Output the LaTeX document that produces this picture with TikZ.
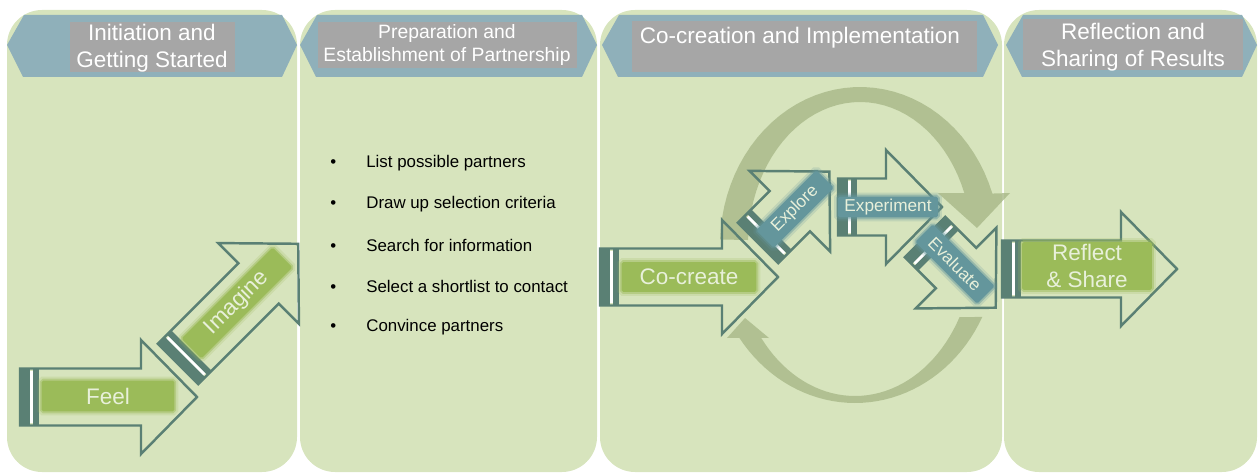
\documentclass[tikz,border=0pt]{standalone}
\usepackage{fontspec}
\setmainfont{Liberation Sans}
\usepackage{xcolor}
\usepackage{tikz}
\usetikzlibrary{positioning}

\definecolor{panelgreen}{RGB}{215,228,189}
\definecolor{headblue}{RGB}{143,176,186}
\definecolor{headgray}{RGB}{166,166,166}
\definecolor{arrowteal}{RGB}{90,128,116}
\definecolor{labgreen}{RGB}{155,187,89}
\definecolor{labteal}{RGB}{100,150,156}
\definecolor{cyclegreen}{RGB}{168,184,136}
\definecolor{labtext}{RGB}{232,240,218}

\tikzstyle{panel} = [fill=panelgreen, rounded corners=0.7cm]
\tikzstyle{headtext} = [text=white, align=center, inner sep=0pt, font=\fontsize{12.8}{15.3}\selectfont]
\tikzstyle{arrowline} = [draw=arrowteal, line width=1.4pt, line join=miter]
\tikzstyle{cyclearc} = [fill=cyclegreen, fill opacity=0.8]
\tikzstyle{greenlab} = [fill=labgreen, draw=labgreen, draw opacity=0.45, line width=2pt, rounded corners=1pt,
  preaction={draw=labgreen, draw opacity=0.2, line width=4.5pt}, text=labtext, inner sep=0pt, font=\fontsize{12.8}{15.3}\selectfont]
\tikzstyle{teallab} = [fill=labteal, draw=labteal, draw opacity=0.45, line width=2pt, rounded corners=1pt,
  preaction={draw=labteal, draw opacity=0.2, line width=4.5pt}, text=labtext, inner sep=0pt, font=\fontsize{9.8}{11}\selectfont]
\tikzstyle{listitem} = [anchor=west, inner sep=0pt, font=\fontsize{9.6}{11}\selectfont]

% block arrow: tail centre x, y, angle, length
\newcommand{\blockarrow}[4]{%
  \begin{scope}[shift={(#1,#2)}, rotate=#3]
    \fill[arrowteal] (0,-28.5) rectangle (10,28.5);
    \fill[white] (10,-26) rectangle (13,26);
    \fill[arrowteal] (13,-28.5) rectangle (19,28.5);
    \draw[arrowline] (0,-28.5) -- ({#4-56},-28.5) -- ({#4-56},-57) -- (#4,0)
      -- ({#4-56},57) -- ({#4-56},28.5) -- (0,28.5) -- cycle;
  \end{scope}}

% phase header: left and right point
\newcommand{\phasehead}[2]{%
  \fill[headblue] (#1,45) -- ({#1+17},15) -- ({#2-15},15) -- (#2,45)
    -- ({#2-15},77) -- ({#1+16},77) -- cycle;}

\begin{document}
\begin{tikzpicture}[x=0.02cm, y=-0.02cm]
    \useasboundingbox (0,0) rectangle (1258,473);

    % four phases
    \fill[panel] (7,10) rectangle (297,472);
    \fill[panel] (300,10) rectangle (597,472);
    \fill[panel] (600,10) rectangle (1002,472);
    \fill[panel] (1004,10) rectangle (1257,472);

    \phasehead{7}{297}
    \phasehead{300}{597}
    \phasehead{602}{998}
    \phasehead{1006}{1257}
    \fill[headgray] (70,22) rectangle (235,72);
    \fill[headgray] (318,22) rectangle (577,68);
    \fill[headgray] (632,21) rectangle (977,72);
    \fill[headgray] (1023,19) rectangle (1243,70);

    \node (phase1) [headtext] at (152,48) {Initiation and\\Getting Started};
    \node (phase2) [headtext, font=\fontsize{11}{13}\selectfont] at (447,45) {Preparation and\\Establishment of Partnership};
    \node (phase3) [headtext] at (800,38) {Co-creation and Implementation};
    \node (phase4) [headtext] at (1133,47) {Reflection and\\Sharing of Results};

    % partner search steps
    \node (item1) [listitem] at (330,163) {\makebox[0.72cm][l]{\textbullet}List possible partners};
    \node (item2) [listitem] at (330,204) {\makebox[0.72cm][l]{\textbullet}Draw up selection criteria};
    \node (item3) [listitem] at (330,245) {\makebox[0.72cm][l]{\textbullet}Search for information};
    \node (item4) [listitem] at (330,286) {\makebox[0.72cm][l]{\textbullet}Select a shortlist to contact};
    \node (item5) [listitem] at (330,327) {\makebox[0.72cm][l]{\textbullet}Convince partners};

    % iteration loop behind the co-creation arrows
    \fill[cyclearc] plot[domain=178:19, samples=40, variable=\t] ({860+140*cos(\t)},{245-158*sin(\t)})
      -- (1010,193) -- (977,228) -- (938,193)
      -- plot[domain=21.3:178, samples=40, variable=\t] ({860+112*cos(\t)},{245-143*sin(\t)}) -- cycle;
    \fill[cyclearc] plot[domain=-27.1:-144, samples=40, variable=\t] ({855+143*cos(\t)},{245-158*sin(\t)})
      -- (727,338) -- (745,318) -- (769,338)
      -- plot[domain=-142:-28.5, samples=40, variable=\t] ({855+119*cos(\t)},{245-151*sin(\t)}) -- cycle;

    % step arrows
    \blockarrow{20}{397}{0}{177}
    \blockarrow{178}{364}{45}{170}
    \blockarrow{600}{277}{0}{178}
    \blockarrow{758}{243}{45}{101}
    \blockarrow{838}{207}{0}{104}
    \blockarrow{925}{237}{-45}{100}
    \blockarrow{1002}{269}{0}{175}

    \node (feel) [greenlab, minimum width=2.66cm, minimum height=0.62cm] at (108,396) {Feel};
    \node (imagine) [greenlab, rotate=45, minimum width=2.58cm, minimum height=0.56cm] at (237,303) {Imagine};
    \node (cocreate) [greenlab, minimum width=2.7cm, minimum height=0.6cm] at (689,277) {Co-create};
    \node (explore) [teallab, rotate=45, minimum width=1.7cm, minimum height=0.5cm] at (795,209) {Explore};
    \node (experiment) [teallab, minimum width=2cm, minimum height=0.42cm] at (888,207) {Experiment};
    \node (evaluate) [teallab, rotate=-45, minimum width=1.75cm, minimum height=0.5cm] at (955,264) {Evaluate};
    \node (reflect) [greenlab, align=center, minimum width=2.6cm, minimum height=0.96cm] at (1087,266) {Reflect\\\& Share};
\end{tikzpicture}
\end{document}
